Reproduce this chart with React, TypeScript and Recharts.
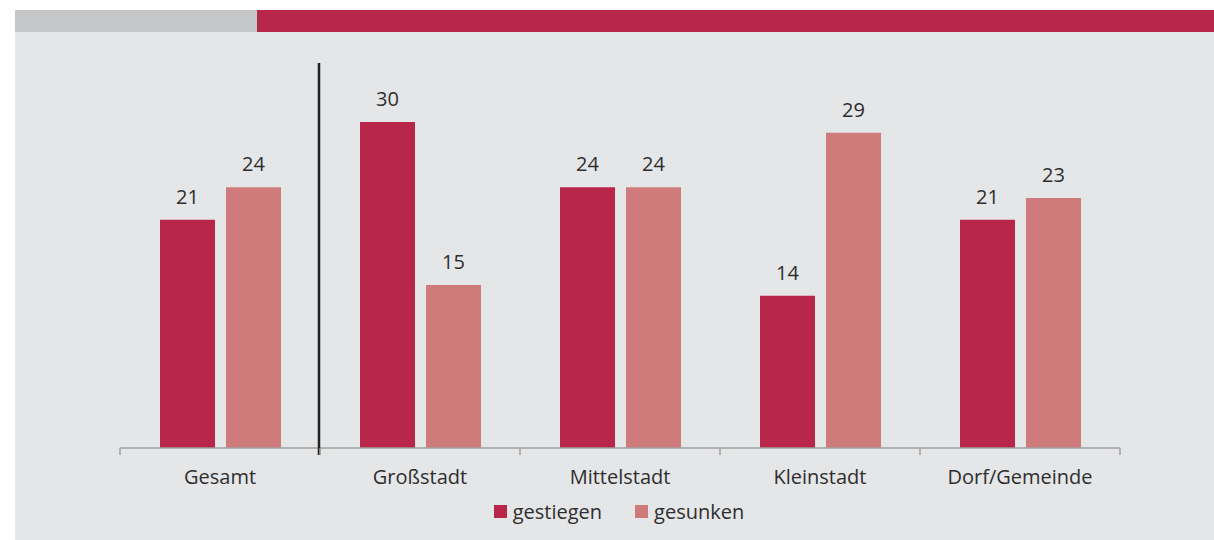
import {
  BarChart,
  Bar,
  XAxis,
  YAxis,
  LabelList,
  Legend,
} from "recharts";

const categories = ["Gesamt", "Großstadt", "Mittelstadt", "Kleinstadt", "Dorf/Gemeinde"];
const gestiegen = [21, 30, 24, 14, 21];
const gesunken = [24, 15, 24, 29, 23];
const seriesNames = ["gestiegen", "gesunken"];

const RED = "#b8264a";
const PINK = "#cf7b7b";
const TEXT = "#2e2e2e";
const AXIS = "#a0a0a0";
const FONT = "'Open Sans', 'Noto Sans', sans-serif";

const CHART_W = 1214;
const CHART_H = 540;
// bottom margin already leaves room for the legend's own height
const MARGIN = { top: 122, right: 94, bottom: 25, left: 120 };
const HALF_BAND = (CHART_W - MARGIN.left - MARGIN.right) / categories.length / 2;

const data = categories.map((name, i) => ({
  name,
  gestiegen: gestiegen[i],
  gesunken: gesunken[i],
}));

// category label plus boundary tick marks; the first boundary carries the divider
function CategoryTick(props: any) {
  const { x, y, payload, index } = props;
  const left = x - HALF_BAND;
  const right = x + HALF_BAND;
  return (
    <g>
      <line x1={left} y1={y} x2={left} y2={y + 7} stroke={AXIS} strokeWidth={1.5} />
      {index === categories.length - 1 && (
        <line x1={right} y1={y} x2={right} y2={y + 7} stroke={AXIS} strokeWidth={1.5} />
      )}
      {index === 0 && (
        <line x1={right - 1} y1={y - 385} x2={right - 1} y2={y + 7} stroke="#222" strokeWidth={2.5} />
      )}
      <text x={x} y={y + 36} textAnchor="middle" fill={TEXT} fontSize={20} fontFamily={FONT}>
        {payload.value}
      </text>
    </g>
  );
}

function LegendContent() {
  const colors = [RED, PINK];
  return (
    <div
      style={{
        display: "flex",
        justifyContent: "center",
        gap: 33,
        fontFamily: FONT,
        fontSize: 20,
        color: TEXT,
        paddingLeft: 24,
      }}
    >
      {seriesNames.map((s, i) => (
        <div key={s} style={{ display: "flex", alignItems: "center", gap: 6 }}>
          <span style={{ width: 13, height: 13, background: colors[i], display: "inline-block" }} />
          <span>{s}</span>
        </div>
      ))}
    </div>
  );
}

export default function App() {
  return (
    <div
      style={{
        position: "fixed",
        left: 0,
        top: 0,
        width: CHART_W,
        height: CHART_H,
        background: "#ffffff",
        fontFamily: FONT,
      }}
    >
      <div style={{ position: "absolute", left: 15, top: 32, width: 1199, height: 508, background: "#e5e6e8" }} />
      <div style={{ position: "absolute", left: 15, top: 10, width: 242, height: 22, background: "#c5c6c8" }} />
      <div style={{ position: "absolute", left: 257, top: 10, width: 957, height: 22, background: RED }} />
      <div style={{ position: "absolute", left: 0, top: 0 }}>
        <BarChart
          width={CHART_W}
          height={CHART_H}
          data={data}
          margin={MARGIN}
          barCategoryGap="20%"
          barGap={11}
        >
          <YAxis hide domain={[0, 30]} />
          <XAxis
            dataKey="name"
            height={40}
            tickLine={false}
            tickSize={0}
            tickMargin={0}
            axisLine={{ stroke: AXIS, strokeWidth: 1.5 }}
            tick={<CategoryTick />}
            interval={0}
          />
          <Bar dataKey="gestiegen" fill={RED} isAnimationActive={false}>
            <LabelList dataKey="gestiegen" position="top" offset={16} fill={TEXT} fontSize={20} fontFamily={FONT} />
          </Bar>
          <Bar dataKey="gesunken" fill={PINK} isAnimationActive={false}>
            <LabelList dataKey="gesunken" position="top" offset={16} fill={TEXT} fontSize={20} fontFamily={FONT} />
          </Bar>
          <Legend
            content={<LegendContent />}
            wrapperStyle={{ top: 498, left: 0, width: CHART_W }}
          />
        </BarChart>
      </div>
    </div>
  );
}
